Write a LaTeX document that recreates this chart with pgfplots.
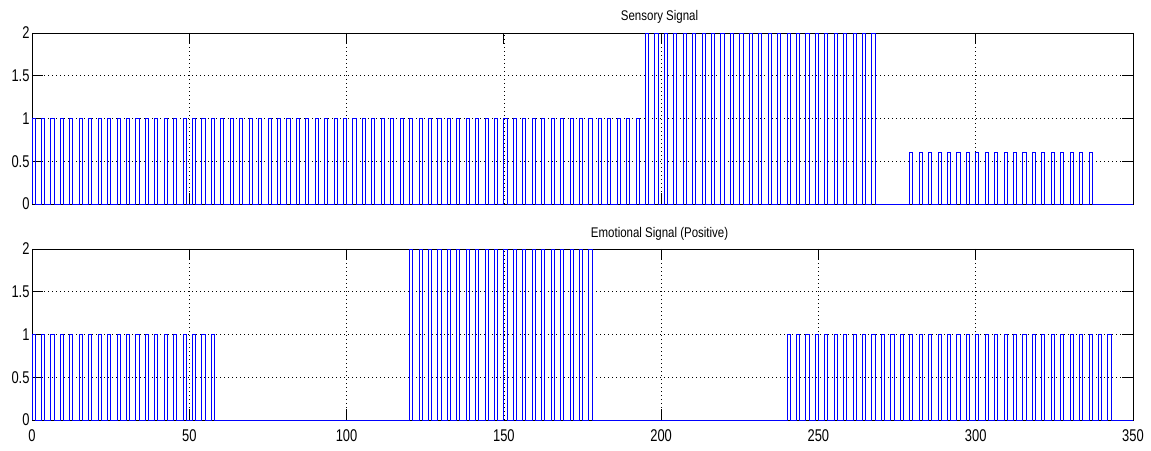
\documentclass[border=0pt]{standalone}
\usepackage{fontspec}
\usepackage{pgfplots}
\pgfplotsset{compat=1.18}
\setmainfont{Liberation Sans}
\newfontfamily\tickfont[FakeStretch=0.76]{Liberation Sans}
\newfontfamily\titlefont[FakeStretch=0.82]{Liberation Sans}
\pgfplotsset{
  matstyle/.style={
    scale only axis, width=1101pt, height=171pt,
    xmin=0, xmax=350, ymin=0, ymax=2,
    xtick={0,50,...,350}, ytick={0,0.5,1,1.5,2},
    tick align=inside, ticks=both, xtick pos=both, ytick pos=both,
    major tick length=11pt,
    axis line style={black, line width=0.8pt},
    every tick/.style={black, line width=0.8pt},
    grid=major,
    major grid style={black, line width=0.6pt, dash pattern=on 0.8pt off 3.2pt},
    /pgf/number format/assume math mode=true,
    ticklabel style={font=\fontsize{17}{19}\tickfont},
    yticklabel style={xshift=1pt},
    xticklabel style={yshift=-6pt},
    title style={at={(0.57,1)}, anchor=south, yshift=-1pt, font=\fontsize{14}{16}\titlefont},
    clip=false,
  },
  sig/.style={const plot, blue, line width=0.8pt, no marks},
}
\begin{document}
\begin{tikzpicture}
\path[use as bounding box] (0,0) rectangle (1151pt,450pt);
\begin{axis}[matstyle, at={(32pt,246pt)}, anchor=south west, title={Sensory Signal}, xticklabel=\empty, title style={yshift=1pt}]
\addplot[sig] coordinates {
(0,0)(0,1)(1,0)(3,1)(4,0)(6,1)(7,0)(9,1)(10,0)(12,1)(13,0)(15,1)(16,0)(18,1)(19,0)(21,1)(22,0)(24,1)(25,0)(27,1)(28,0)(30,1)(31,0)(33,1)(34,0)(36,1)(37,0)(39,1)(40,0)(42,1)(43,0)(45,1)(46,0)(48,1)(49,0)
(51,1)(52,0)(54,1)(55,0)(57,1)(58,0)(60,1)(61,0)(63,1)(64,0)(66,1)(67,0)(69,1)(70,0)(72,1)(73,0)(75,1)(76,0)(78,1)(79,0)(81,1)(82,0)(84,1)(85,0)(87,1)(88,0)(90,1)(91,0)(93,1)(94,0)(96,1)(97,0)(99,1)(100,0)
(102,1)(103,0)(105,1)(106,0)(108,1)(109,0)(111,1)(112,0)(114,1)(115,0)(117,1)(118,0)(120,1)(121,0)(123,1)(124,0)(126,1)(127,0)(129,1)(130,0)(132,1)(133,0)(135,1)(136,0)(138,1)(139,0)(141,1)(142,0)(144,1)(145,0)(147,1)(148,0)
(150,1)(151,0)(153,1)(154,0)(156,1)(157,0)(159,1)(160,0)(162,1)(163,0)(165,1)(166,0)(168,1)(169,0)(171,1)(172,0)(174,1)(175,0)(177,1)(178,0)(180,1)(181,0)(183,1)(184,0)(186,1)(187,0)(189,1)(190,0)(192,1)(193,0)
(195,2)(196,0)(198,2)(199,0)(201,2)(202,0)(204,2)(205,0)(207,2)(208,0)(210,2)(211,0)(213,2)(214,0)(216,2)(217,0)(219,2)(220,0)(222,2)(223,0)(225,2)(226,0)(228,2)(229,0)(231,2)(232,0)(234,2)(235,0)(237,2)(238,0)(240,2)(241,0)(243,2)(244,0)(246,2)(247,0)(249,2)(250,0)(252,2)(253,0)(255,2)(256,0)(258,2)(259,0)(261,2)(262,0)(264,2)(265,0)(267,2)(268,0)
(279,0.6)(280,0)(282,0.6)(283,0)(285,0.6)(286,0)(288,0.6)(289,0)(291,0.6)(292,0)(294,0.6)(295,0)(297,0.6)(298,0)(300,0.6)(301,0)(303,0.6)(304,0)(306,0.6)(307,0)(309,0.6)(310,0)(312,0.6)(313,0)(315,0.6)(316,0)(318,0.6)(319,0)(321,0.6)(322,0)(324,0.6)(325,0)(327,0.6)(328,0)(330,0.6)(331,0)(333,0.6)(334,0)(336,0.6)(337,0)(350,0)
};
\end{axis}
\begin{axis}[matstyle, at={(32pt,30pt)}, anchor=south west, title={Emotional Signal (Positive)}]
\addplot[sig] coordinates {
(0,0)(0,1)(1,0)(3,1)(4,0)(6,1)(7,0)(9,1)(10,0)(12,1)(13,0)(15,1)(16,0)(18,1)(19,0)(21,1)(22,0)(24,1)(25,0)(27,1)(28,0)(30,1)(31,0)(33,1)(34,0)(36,1)(37,0)(39,1)(40,0)(42,1)(43,0)(45,1)(46,0)(48,1)(49,0)(51,1)(52,0)(54,1)(55,0)(57,1)(58,0)
(120,2)(121,0)(123,2)(124,0)(126,2)(127,0)(129,2)(130,0)(132,2)(133,0)(135,2)(136,0)(138,2)(139,0)(141,2)(142,0)(144,2)(145,0)(147,2)(148,0)(150,2)(151,0)(153,2)(154,0)(156,2)(157,0)(159,2)(160,0)(162,2)(163,0)(165,2)(166,0)(168,2)(169,0)(171,2)(172,0)(174,2)(175,0)(177,2)(178,0)
(240,1)(241,0)(243,1)(244,0)(246,1)(247,0)(249,1)(250,0)(252,1)(253,0)(255,1)(256,0)(258,1)(259,0)(261,1)(262,0)(264,1)(265,0)(267,1)(268,0)(270,1)(271,0)(273,1)(274,0)(276,1)(277,0)(279,1)(280,0)(282,1)(283,0)(285,1)(286,0)(288,1)(289,0)(291,1)(292,0)(294,1)(295,0)(297,1)(298,0)
(300,1)(301,0)(303,1)(304,0)(306,1)(307,0)(309,1)(310,0)(312,1)(313,0)(315,1)(316,0)(318,1)(319,0)(321,1)(322,0)(324,1)(325,0)(327,1)(328,0)(330,1)(331,0)(333,1)(334,0)(336,1)(337,0)(339,1)(340,0)(342,1)(343,0)(350,0)
};
\end{axis}
\end{tikzpicture}
\end{document}
